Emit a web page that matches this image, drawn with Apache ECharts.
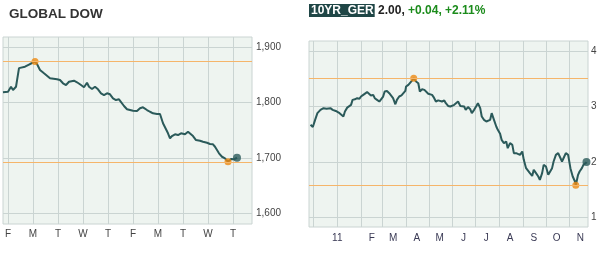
<!DOCTYPE html>
<html><head><meta charset="utf-8">
<script src="https://cdn.jsdelivr.net/npm/echarts@6/dist/echarts.min.js"></script>
<style>html,body{margin:0;padding:0;background:#fff}#c{width:600px;height:254px}</style>
</head><body><div id="c"></div>
<script>
// ---- GLOBAL DOW (10 trading days, x in days) ----
const dowDays = [-0.2,-0.12,0,0.12,0.2,0.32,0.44,0.48,0.68,0.76,0.88,1.08,1.16,1.28,1.44,1.56,1.68,1.76,1.96,2.08,2.2,2.32,2.44,2.52,2.64,2.76,2.92,3.04,3.16,3.24,3.36,3.48,3.6,3.72,3.84,3.96,4.08,4.2,4.32,4.44,4.52,4.64,4.76,4.88,5.0,5.16,5.28,5.4,5.56,5.68,5.8,5.96,6.08,6.2,6.28,6.4,6.48,6.56,6.68,6.8,6.92,7.08,7.2,7.28,7.4,7.52,7.6,7.68,7.8,7.96,8.08,8.2,8.28,8.36,8.44,8.56,8.68,8.8,8.92,9.04,9.16];
const dowValues = [1818.5,1819,1819.5,1828.5,1822.6,1828.5,1862,1864.5,1864.5,1867.6,1869.4,1873.8,1869.4,1858.6,1852.7,1848.3,1843.7,1846.5,1841.9,1840.6,1834.7,1831.6,1837.5,1834.7,1839.3,1836.5,1831.6,1827.5,1835.7,1828.5,1824.4,1828.5,1823.9,1816.7,1813.6,1816.7,1814.9,1807.7,1804.6,1805.9,1802.8,1793.8,1787.9,1786.6,1785.3,1784.8,1789.7,1791.5,1786.6,1783.5,1780.7,1779.4,1779.4,1762.7,1759.6,1744.7,1735.7,1739.8,1742.9,1741.6,1744.7,1742.9,1747.5,1744.7,1739.8,1732.6,1735.7,1731.3,1729.5,1727.7,1725.4,1724.9,1720.5,1714.6,1708.7,1702.5,1699.7,1693.5,1698.4,1697.9,1700.7];
const dowDayTicks = [0,1,2,3,4,5,6,7,8,9];
const dowDayLabels = ['F','M','T','W','T','F','M','T','W','T'];
const dowYTicks = [1600,1700,1800,1900];
const dowYLabels = ['1,600','1,700','1,800','1,900'];
const dowTitle = 'GLOBAL DOW';

// ---- 10YR_GER (one year) ----
const gerDates = ['2010-11-27','2010-11-29','2010-11-30','2010-12-03','2010-12-06','2010-12-08','2010-12-10','2010-12-14','2010-12-16','2010-12-18','2010-12-23','2010-12-26','2010-12-28','2010-12-30','2011-01-04','2011-01-06','2011-01-09','2011-01-11','2011-01-14','2011-01-16','2011-01-19','2011-01-21','2011-01-24','2011-01-27','2011-01-30','2011-02-01','2011-02-04','2011-02-06','2011-02-09','2011-02-11','2011-02-14','2011-02-17','2011-02-19','2011-02-22','2011-02-25','2011-02-27','2011-03-02','2011-03-04','2011-03-07','2011-03-10','2011-03-12','2011-03-15','2011-03-18','2011-03-20','2011-03-23','2011-03-26','2011-03-28','2011-03-31','2011-04-01','2011-04-04','2011-04-06','2011-04-09','2011-04-11','2011-04-14','2011-04-17','2011-04-19','2011-04-22','2011-04-25','2011-04-27','2011-04-30','2011-05-02','2011-05-05','2011-05-07','2011-05-10','2011-05-13','2011-05-15','2011-05-18','2011-05-21','2011-05-23','2011-05-26','2011-05-29','2011-05-31','2011-06-03','2011-06-05','2011-06-08','2011-06-11','2011-06-13','2011-06-16','2011-06-18','2011-06-21','2011-06-24','2011-06-26','2011-06-29','2011-07-02','2011-07-04','2011-07-07','2011-07-09','2011-07-12','2011-07-15','2011-07-17','2011-07-20','2011-07-22','2011-07-25','2011-07-28','2011-07-30','2011-08-02','2011-08-04','2011-08-07','2011-08-10','2011-08-12','2011-08-15','2011-08-18','2011-08-20','2011-08-23','2011-08-25','2011-08-28','2011-08-31','2011-09-02','2011-09-05','2011-09-07','2011-09-10','2011-09-13','2011-09-15','2011-09-18','2011-09-21','2011-09-23','2011-09-26','2011-09-28','2011-10-01','2011-10-04','2011-10-06','2011-10-09','2011-10-11','2011-10-14','2011-10-17','2011-10-19','2011-10-22','2011-10-25','2011-10-27','2011-10-30','2011-11-02','2011-11-04','2011-11-05','2011-11-08','2011-11-09','2011-11-12','2011-11-14','2011-11-17','2011-11-19','2011-11-22','2011-11-23'];
const gerValues = [2.67,2.68,2.63,2.76,2.88,2.91,2.94,2.97,3.00,2.96,2.97,2.94,2.97,2.92,2.88,2.85,2.82,2.91,2.98,2.99,3.03,3.12,3.13,3.15,3.14,3.18,3.21,3.22,3.26,3.24,3.20,3.21,3.15,3.12,3.09,3.12,3.18,3.27,3.28,3.24,3.21,3.15,3.04,3.12,3.18,3.20,3.22,3.28,3.36,3.39,3.42,3.47,3.51,3.45,3.42,3.27,3.31,3.30,3.27,3.23,3.25,3.21,3.17,3.09,3.11,3.09,3.09,3.11,3.06,3.01,3.00,3.03,3.03,3.06,3.09,3.01,3.03,3.00,2.94,2.99,2.95,2.88,2.94,3.01,3.06,2.97,2.82,2.76,2.73,2.70,2.76,2.88,2.76,2.64,2.58,2.51,2.40,2.34,2.37,2.25,2.34,2.31,2.16,2.16,2.19,2.13,2.19,2.04,1.89,1.87,1.80,1.75,1.86,1.80,1.74,1.68,1.80,1.95,1.92,1.77,1.74,1.89,2.01,2.13,2.16,2.10,2.01,2.10,2.16,2.13,1.89,1.86,1.74,1.65,1.58,1.77,1.83,1.89,1.95,1.98,2.00];
const gerMonthLines = ['2010-12-01','2011-01-01','2011-02-01','2011-03-01','2011-04-01','2011-05-01','2011-06-01','2011-07-01','2011-08-01','2011-09-01','2011-10-01','2011-11-01'];
const gerLabelDates = ['2011-01-01','2011-02-15','2011-03-15','2011-04-15','2011-05-15','2011-06-15','2011-07-15','2011-08-15','2011-09-15','2011-10-15','2011-11-15'];
const gerLabels = ['11','F','M','A','M','J','J','A','S','O','N'];
const gerRange = ['2010-11-25','2011-11-25'];
const gerYTicks = [1,2,3,4];
const gerYLabels = ['1','2','3','4'];
const gerName = '10YR_GER';
const gerLast = '2.00';
const gerChange = '+0.04';
const gerPct = '+2.11%';

const FONT = "'Liberation Sans', Arial, sans-serif";
const LINE = '#2b5a5a';
const GRIDC = '#cad4d2';
const BG = '#eef4f0';
const ORANGE_LINE = '#f5b56a';
const ORANGE_DOT = '#ee8a12';
const LABEL = '#444';

function parseLocal(s){ const p = s.split('-').map(Number); return new Date(p[0], p[1]-1, p[2]).getTime(); }

const dowData = dowDays.map((d,i)=>[d, dowValues[i]]);
const gerData = gerDates.map((d,i)=>[parseLocal(d), gerValues[i]]);
const gerMonthTs = gerMonthLines.map(parseLocal);
const gerLabelTs = gerLabelDates.map(parseLocal);
function extremes(vals){
  let hi=0, lo=0;
  vals.forEach((v,i)=>{ if(v>vals[hi]) hi=i; if(v<vals[lo]) lo=i; });
  return {hi, lo, last: vals.length-1};
}
const dE = extremes(dowValues), gE = extremes(gerValues);

function gerLabelFor(v){
  let best=0, bd=Infinity;
  gerLabelTs.forEach((t,i)=>{ const dd=Math.abs(t-v); if(dd<bd){bd=dd;best=i;} });
  return gerLabels[best];
}
function nearestLabel(ticks, labels, v){
  let best=0, bd=Infinity;
  ticks.forEach((t,i)=>{ const dd=Math.abs(t-v); if(dd<bd){bd=dd;best=i;} });
  return labels[best];
}

const chart = echarts.init(document.getElementById('c'), null, {renderer:'canvas'});
chart.setOption({
  animation: false,
  backgroundColor: '#fff',
  title: [
    {left: 9, top: 7, padding: 0, text: dowTitle,
     textStyle: {fontFamily: FONT, fontSize: 13.5, fontWeight: 'bold', color: '#333', lineHeight: 15}},
    {left: 309, top: 4, padding: 0,
     text: '{box|' + gerName + '} {b|' + gerLast + '}{k|, }{g|' + gerChange + ', ' + gerPct + '}',
     textStyle: {fontFamily: FONT, fontSize: 12, lineHeight: 13,
       rich: {
         box: {backgroundColor: '#1f4646', color: '#fff', fontFamily: FONT, fontSize: 12, lineHeight: 13, padding: [1, 1, 0, 2]},
         b: {color: '#222', fontWeight: 'bold', fontFamily: FONT, fontSize: 12, lineHeight: 13},
         k: {color: '#222', fontFamily: FONT, fontSize: 12, lineHeight: 13},
         g: {color: '#1c8c1c', fontFamily: FONT, fontSize: 12, lineHeight: 13}
       }}}
  ],
  grid: [
    {left: 3, top: 37, width: 249, height: 187, show: true, backgroundColor: BG, borderColor: GRIDC, borderWidth: 1},
    {left: 309, top: 41, width: 279, height: 186, show: true, backgroundColor: BG, borderColor: GRIDC, borderWidth: 1}
  ],
  xAxis: [
    {type: 'value', gridIndex: 0, min: -0.2, max: 9.76,
     axisLine: {show: false}, axisTick: {show: false, customValues: dowDayTicks},
     axisLabel: {customValues: dowDayTicks, margin: 5, fontFamily: FONT, fontSize: 10, color: LABEL,
       formatter: v => nearestLabel(dowDayTicks, dowDayLabels, v)},
     splitLine: {show: true, lineStyle: {color: GRIDC, width: 1}}},
    {type: 'value', gridIndex: 1, min: parseLocal(gerRange[0]), max: parseLocal(gerRange[1]),
     axisLine: {show: false}, axisTick: {show: false, customValues: gerMonthTs},
     axisLabel: {customValues: gerLabelTs, margin: 6, fontFamily: FONT, fontSize: 10, color: '#3a3a55',
       formatter: v => gerLabelFor(v)},
     splitLine: {show: true, lineStyle: {color: GRIDC, width: 1}}}
  ],
  yAxis: [
    {type: 'value', gridIndex: 0, position: 'right', min: 1581.5, max: 1918,
     axisLine: {show: false}, axisTick: {show: false, customValues: dowYTicks},
     axisLabel: {customValues: dowYTicks, margin: 4, fontFamily: FONT, fontSize: 10, color: LABEL,
       formatter: v => nearestLabel(dowYTicks, dowYLabels, v)},
     splitLine: {show: true, lineStyle: {color: GRIDC, width: 1}}},
    {type: 'value', gridIndex: 1, position: 'right', min: 0.83, max: 4.18,
     axisLine: {show: false}, axisTick: {show: false, customValues: gerYTicks},
     axisLabel: {customValues: gerYTicks, margin: 3, fontFamily: FONT, fontSize: 10, color: LABEL,
       formatter: v => nearestLabel(gerYTicks, gerYLabels, v)},
     splitLine: {show: true, lineStyle: {color: GRIDC, width: 1}}}
  ],
  series: [
    {type: 'line', xAxisIndex: 0, yAxisIndex: 0, data: dowData, showSymbol: false, silent: true,
     lineStyle: {color: LINE, width: 2}, z: 3,
     markLine: {silent: true, symbol: 'none', label: {show: false},
       lineStyle: {color: ORANGE_LINE, width: 1, type: 'solid'},
       data: [{yAxis: dowValues[dE.hi]}, {yAxis: dowValues[dE.lo]}]}},
    {type: 'scatter', xAxisIndex: 0, yAxisIndex: 0, symbolSize: 7, z: 4,
     itemStyle: {color: ORANGE_DOT},
     data: [dowData[dE.hi], dowData[dE.lo]]},
    {type: 'scatter', xAxisIndex: 0, yAxisIndex: 0, symbolSize: 8, z: 5,
     itemStyle: {color: LINE},
     data: [dowData[dE.last]]},
    {type: 'line', xAxisIndex: 1, yAxisIndex: 1, data: gerData, showSymbol: false, silent: true,
     lineStyle: {color: LINE, width: 2}, z: 3,
     markLine: {silent: true, symbol: 'none', label: {show: false},
       lineStyle: {color: ORANGE_LINE, width: 1, type: 'solid'},
       data: [{yAxis: gerValues[gE.hi]}, {yAxis: gerValues[gE.lo]}]}},
    {type: 'scatter', xAxisIndex: 1, yAxisIndex: 1, symbolSize: 7, z: 4,
     itemStyle: {color: ORANGE_DOT},
     data: [gerData[gE.hi], gerData[gE.lo]]},
    {type: 'scatter', xAxisIndex: 1, yAxisIndex: 1, symbolSize: 8, z: 5,
     itemStyle: {color: LINE},
     data: [gerData[gE.last]]}
  ]
});
</script></body></html>
